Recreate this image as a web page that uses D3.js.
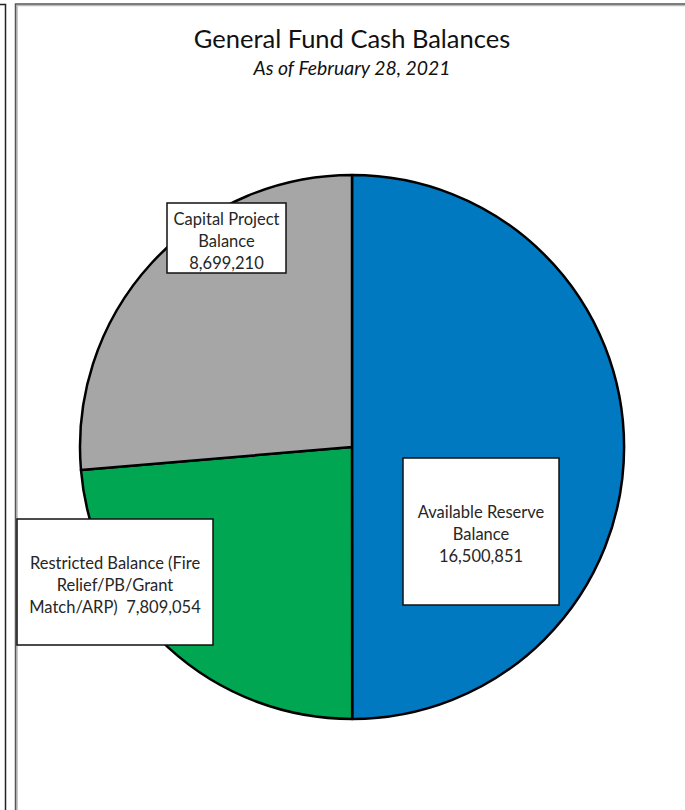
<!DOCTYPE html>
<html>
<head>
<meta charset="utf-8">
<script src="https://cdn.jsdelivr.net/npm/d3@7"></script>
<style>
  html, body { margin: 0; padding: 0; background: #fff; }
  svg { display: block; }
  text { white-space: pre; }
</style>
</head>
<body>
<svg id="chart" width="685" height="810"></svg>
<script>
// Data
const categories = ["Available Reserve Balance", "Restricted Balance (Fire Relief/PB/Grant Match/ARP)", "Capital Project Balance"];
const values = [16500851, 7809054, 8699210];
const labelLines = [
  ["Available Reserve", "Balance", "16,500,851"],
  ["Restricted Balance (Fire", "Relief/PB/Grant", "Match/ARP)  7,809,054"],
  ["Capital Project", "Balance", "8,699,210"]
];
const colors = ["#0079c1", "#00a651", "#a6a6a6"];

// label boxes, relative to pie centre (x, y, w, h)
const boxes = [
  { x: 51, y: 11, w: 156, h: 147 },
  { x: -335, y: 72, w: 196, h: 126 },
  { x: -185, y: -244, w: 119, h: 70 }
];

const svg = d3.select("#chart");
const W = 685, H = 810;
const cx = 352, cy = 447, radius = 272;
const font = "Lato, 'Open Sans', sans-serif";

// outer frames
svg.append("path")
  .attr("d", `M0,4.5 H5.5 V${H}`)
  .attr("fill", "none").attr("stroke", "#222").attr("stroke-width", 1.5);
svg.append("path")
  .attr("d", `M17,${H} V5.5 H${W}`)
  .attr("fill", "none").attr("stroke", "#bbb").attr("stroke-width", 1.5);
svg.append("path")
  .attr("d", `M15.5,${H} V4 H${W}`)
  .attr("fill", "none").attr("stroke", "#555").attr("stroke-width", 1.5);

// title
svg.append("text")
  .attr("x", cx).attr("y", 48)
  .attr("text-anchor", "middle")
  .attr("font-family", font)
  .attr("font-size", 25.5)
  .attr("fill", "#111")
  .text("General Fund Cash Balances");
svg.append("text")
  .attr("x", cx).attr("y", 75)
  .attr("text-anchor", "middle")
  .attr("font-family", font)
  .attr("font-style", "italic")
  .attr("font-size", 19.4)
  .attr("fill", "#111")
  .text("As of February 28, 2021");

const pie = d3.pie().sort(null).value(d => d);
const arc = d3.arc().innerRadius(0).outerRadius(radius);

const g = svg.append("g").attr("transform", `translate(${cx},${cy})`);

g.selectAll("path.slice")
  .data(pie(values))
  .join("path")
  .attr("class", "slice")
  .attr("d", arc)
  .attr("fill", (d, i) => colors[i])
  .attr("stroke", "#000")
  .attr("stroke-width", 2.5)
  .attr("stroke-linejoin", "round");

// label boxes
const lab = g.selectAll("g.lab")
  .data(categories)
  .join("g")
  .attr("class", "lab")
  .attr("transform", (d, i) => `translate(${boxes[i].x},${boxes[i].y})`);

lab.append("rect")
  .attr("width", (d, i) => boxes[i].w)
  .attr("height", (d, i) => boxes[i].h)
  .attr("fill", "#fff")
  .attr("stroke", "#111")
  .attr("stroke-width", 1.5);

lab.each(function(d, i) {
  const b = boxes[i];
  const lines = labelLines[i];
  const lh = 22;
  const top = b.h / 2 - (lines.length - 1) * lh / 2 + 3;
  d3.select(this).selectAll("text")
    .data(lines)
    .join("text")
    .attr("x", b.w / 2)
    .attr("y", (t, j) => top + j * lh)
    .attr("dy", "0.35em")
    .attr("text-anchor", "middle")
    .attr("font-family", font)
    .attr("font-size", 16.5)
    .attr("fill", "#262626")
    .text(t => t);
});
</script>
</body>
</html>
